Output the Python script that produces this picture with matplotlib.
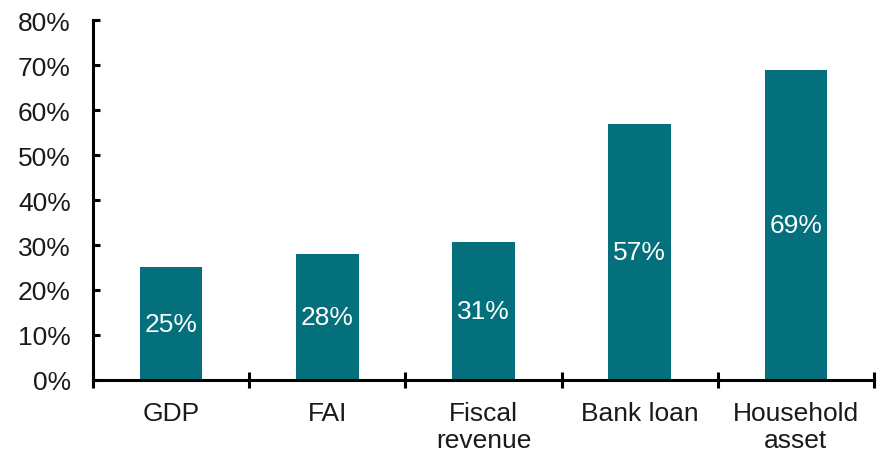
import numpy as np
import matplotlib
matplotlib.use("Agg")
import matplotlib.pyplot as plt
from matplotlib.ticker import FixedLocator, PercentFormatter

categories = ["GDP", "FAI", "Fiscal\nrevenue", "Bank loan", "Household\nasset"]
values = [25, 28, 30.7, 57, 69]
labels = ["25%", "28%", "31%", "57%", "69%"]

plt.rcParams['font.family'] = ['Liberation Sans', 'DejaVu Sans']
teal = "#03707b"
txt = "#1a1a1a"

fig = plt.figure(figsize=(8.83, 4.56), dpi=100)
ax = fig.add_axes([0.1053, 0.1645, 0.9898 - 0.1053, 0.9539 - 0.1645])

x = np.arange(len(categories))
bars = ax.bar(x, values, width=0.4, color=teal, zorder=2)
for b, v, t in zip(bars, values, labels):
    ax.text(b.get_x() + b.get_width() / 2, v / 2, t, ha="center", va="center",
            color="white", fontsize=19)

ax.set_xlim(-0.5, len(categories) - 0.5)
ax.set_ylim(0, 80)
ax.set_yticks(range(0, 81, 10))
ax.yaxis.set_major_formatter(PercentFormatter(decimals=0))
ax.set_xticks(x)
ax.set_xticklabels(categories, fontsize=19, color=txt, linespacing=1.15)
ax.xaxis.set_minor_locator(FixedLocator(np.arange(-0.5, len(categories), 1.0)))

for s in ["top", "right"]:
    ax.spines[s].set_visible(False)
for s in ["left", "bottom"]:
    ax.spines[s].set_linewidth(2.2)
    ax.spines[s].set_color("black")

ax.tick_params(axis="y", direction="in", length=5, width=2.2, pad=16,
               labelsize=19, labelcolor=txt)
ax.tick_params(axis="x", which="major", length=0, pad=15)
ax.tick_params(axis="x", which="minor", direction="inout", length=12, width=2.2)

fig.savefig("out.png", dpi=100)
